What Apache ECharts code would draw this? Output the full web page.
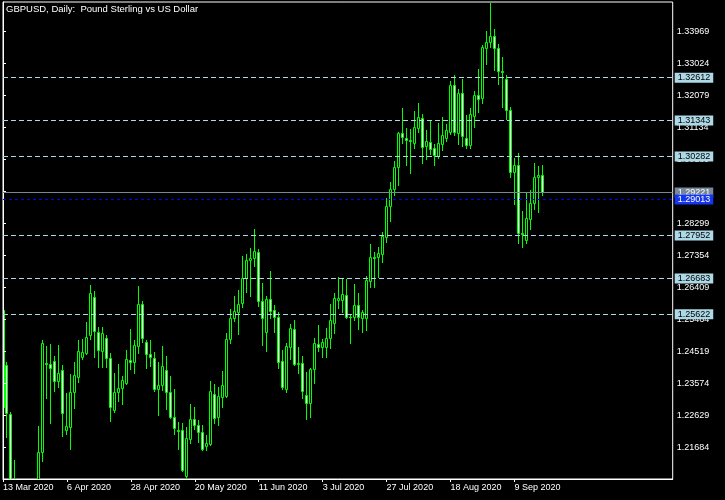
<!DOCTYPE html>
<html><head><meta charset="utf-8">
<script src="https://cdn.jsdelivr.net/npm/echarts@6/dist/echarts.min.js"></script>
<style>html,body{margin:0;padding:0;background:#000;}#c{width:725px;height:500px;}</style>
</head><body><div id="c"></div>
<script>
// Daily bars 13 Mar 2020 .. 18 Sep 2020 (index 0..135)
const openP = [1.2575,1.2413,1.2267,1.2055,1.1720,1.1620,1.1640,1.1520,1.1760,1.1880,
1.2155,1.2419,1.2417,1.2423,1.2366,1.2398,1.2222,1.2229,1.2332,1.2376,
1.2436,1.2449,1.2500,1.2612,1.2511,1.2455,1.2491,1.2432,1.2280,1.2332,
1.2344,1.2360,1.2427,1.2421,1.2469,1.2592,1.2482,1.2445,1.2432,1.2341,
1.2353,1.2398,1.2332,1.2258,1.2222,1.2222,1.2086,1.2193,1.2253,1.2236,
1.2216,1.2173,1.2179,1.2326,1.2259,1.2317,1.2322,1.2488,1.2550,1.2570,
1.2595,1.2670,1.2722,1.2730,1.2745,1.2601,1.2511,1.2607,1.2575,1.2554,
1.2425,1.2341,1.2467,1.2519,1.2415,1.2418,1.2324,1.2300,1.2400,1.2475,
1.2467,1.2465,1.2491,1.2537,1.2604,1.2604,1.2618,1.2555,1.2553,1.2589,
1.2552,1.2550,1.2662,1.2732,1.2732,1.2739,1.2791,1.2882,1.2931,1.2997,
1.3097,1.3082,1.3077,1.3069,1.3113,1.3141,1.3060,1.3072,1.3052,1.3030,
1.3065,1.3084,1.3102,1.3239,1.3098,1.3215,1.3082,1.3062,1.3149,1.3209,
1.3202,1.3348,1.3367,1.3384,1.3350,1.3282,1.3258,1.3166,1.2983,1.3003,
1.2803,1.2782,1.2844,1.2890,1.2969,1.2974];
const highP = [1.2580,1.2422,1.2274,1.2132,1.1790,1.1780,1.1680,1.1780,1.1940,1.2233,
1.2486,1.2469,1.2475,1.2439,1.2471,1.2413,1.2331,1.2386,1.2421,1.2485,
1.2489,1.2540,1.2649,1.2631,1.2526,1.2525,1.2501,1.2448,1.2389,1.2415,
1.2379,1.2457,1.2519,1.2485,1.2646,1.2601,1.2487,1.2485,1.2450,1.2421,
1.2470,1.2439,1.2380,1.2342,1.2243,1.2240,1.2230,1.2297,1.2288,1.2250,
1.2235,1.2206,1.2364,1.2356,1.2347,1.2395,1.2507,1.2577,1.2616,1.2634,
1.2734,1.2740,1.2757,1.2814,1.2754,1.2655,1.2617,1.2690,1.2590,1.2570,
1.2457,1.2478,1.2534,1.2545,1.2467,1.2439,1.2393,1.2403,1.2493,1.2531,
1.2490,1.2521,1.2593,1.2624,1.2672,1.2668,1.2668,1.2560,1.2652,1.2624,
1.2575,1.2674,1.2770,1.2747,1.2762,1.2806,1.2905,1.2953,1.3015,1.3102,
1.3171,1.3113,1.3109,1.3163,1.3186,1.3154,1.3107,1.3134,1.3065,1.3126,
1.3144,1.3124,1.3251,1.3269,1.3228,1.3257,1.3151,1.3172,1.3223,1.3287,
1.3357,1.3399,1.3482,1.3405,1.3361,1.3321,1.3269,1.3174,1.3023,1.3038,
1.2868,1.2921,1.2929,1.3008,1.2999,1.3003];
const lowP = [1.2285,1.2201,1.2000,1.1680,1.1450,1.1410,1.1450,1.1480,1.1700,1.1860,
1.2129,1.2314,1.2242,1.2337,1.2348,1.2204,1.2210,1.2165,1.2286,1.2361,
1.2430,1.2445,1.2490,1.2437,1.2408,1.2408,1.2408,1.2248,1.2275,1.2307,
1.2298,1.2356,1.2400,1.2390,1.2449,1.2481,1.2405,1.2410,1.2335,1.2266,
1.2339,1.2283,1.2255,1.2210,1.2164,1.2099,1.2070,1.2182,1.2223,1.2185,
1.2162,1.2162,1.2176,1.2240,1.2234,1.2289,1.2318,1.2477,1.2542,1.2503,
1.2583,1.2629,1.2617,1.2706,1.2588,1.2472,1.2455,1.2552,1.2511,1.2403,
1.2342,1.2334,1.2430,1.2413,1.2390,1.2314,1.2252,1.2258,1.2360,1.2454,
1.2437,1.2437,1.2464,1.2508,1.2580,1.2570,1.2551,1.2478,1.2545,1.2519,
1.2511,1.2516,1.2644,1.2644,1.2673,1.2718,1.2777,1.2839,1.2915,1.2944,
1.3067,1.3003,1.2980,1.3054,1.3102,1.3010,1.3020,1.3036,1.3003,1.3025,
1.3047,1.3075,1.3095,1.3092,1.3064,1.3060,1.3054,1.3054,1.3116,1.3161,
1.3187,1.3301,1.3353,1.3284,1.3242,1.3175,1.3139,1.2969,1.2888,1.2774,
1.2762,1.2774,1.2813,1.2872,1.2865,1.2915];
const closeP = [1.2289,1.2270,1.2055,1.1720,1.1620,1.1640,1.1520,1.1760,1.1880,1.2155,
1.2477,1.2415,1.2405,1.2366,1.2388,1.2270,1.2232,1.2332,1.2382,1.2454,
1.2450,1.2494,1.2624,1.2513,1.2456,1.2506,1.2432,1.2288,1.2332,1.2344,
1.2368,1.2429,1.2422,1.2472,1.2592,1.2493,1.2445,1.2435,1.2341,1.2353,
1.2409,1.2332,1.2258,1.2226,1.2218,1.2102,1.2196,1.2253,1.2235,1.2216,
1.2164,1.2181,1.2335,1.2257,1.2320,1.2353,1.2488,1.2550,1.2572,1.2593,
1.2670,1.2723,1.2729,1.2749,1.2602,1.2551,1.2607,1.2573,1.2555,1.2422,
1.2349,1.2470,1.2523,1.2415,1.2418,1.2337,1.2300,1.2400,1.2477,1.2467,
1.2482,1.2492,1.2545,1.2611,1.2610,1.2622,1.2555,1.2553,1.2589,1.2553,
1.2568,1.2664,1.2732,1.2729,1.2743,1.2795,1.2882,1.2931,1.2997,1.3097,
1.3085,1.3077,1.3075,1.3114,1.3144,1.3055,1.3073,1.3050,1.3033,1.3067,
1.3091,1.3107,1.3239,1.3101,1.3215,1.3089,1.3063,1.3153,1.3209,1.3199,
1.3352,1.3367,1.3384,1.3350,1.3282,1.3277,1.3166,1.2982,1.3003,1.2803,
1.2798,1.2846,1.2890,1.2967,1.2974,1.29221];

const tickIndex = [0,16,32,48,64,80,96,112,128];
const tickLabels = ['13 Mar 2020','6 Apr 2020','28 Apr 2020','20 May 2020','11 Jun 2020','3 Jul 2020','27 Jul 2020','18 Aug 2020','9 Sep 2020'];
const priceTicks = [1.21684,1.22629,1.23574,1.24519,1.25464,1.26409,1.27354,1.28299,1.29244,1.30189,1.31134,1.32079,1.33024,1.33969];
const levelPrices = [1.32612,1.31343,1.30282,1.27952,1.26683,1.25622];
const bidPrice = 1.29221;
const bluePrice = 1.29013;
const titleText = 'GBPUSD, Daily:  Pound Sterling vs US Dollar';

const FONT = 'Liberation Sans';
const GREEN = '#00ff00';
const rows = openP.map((o, i) => [i, o, closeP[i], lowP[i], highP[i]]);

function renderCandle(params, api) {
  const i = api.value(0);
  const o = api.value(1), c = api.value(2), l = api.value(3), h = api.value(4);
  const pO = api.coord([i, o]), pC = api.coord([i, c]);
  const pL = api.coord([i, l]), pH = api.coord([i, h]);
  const cx = Math.floor(pO[0]) + 0.5;
  const yTop = Math.round(Math.min(pO[1], pC[1]));
  const yBot = Math.round(Math.max(pO[1], pC[1]));
  const up = c >= o;
  const children = [{type:'line', shape:{x1:cx, y1:Math.round(pH[1]), x2:cx, y2:Math.round(pL[1]) + 1},
    style:{stroke:GREEN, lineWidth:1}}];
  if (yBot - yTop >= 1) {
    children.push({type:'rect', shape:{x:cx - 1, y:yTop + 0.5, width:2, height:yBot - yTop},
      style:{fill: up ? '#000' : '#fff', stroke:GREEN, lineWidth:1}});
  } else {
    children.push({type:'line', shape:{x1:cx - 1.5, y1:yTop + 0.5, x2:cx + 1.5, y2:yTop + 0.5},
      style:{stroke:GREEN, lineWidth:1}});
  }
  return {type:'group', children};
}

const lblBase = {show:true, position:'end', distance:2, fontSize:9, fontFamily:FONT,
  padding:[1,3,0,3], lineHeight:9, formatter: p => Number(p.value).toFixed(5)};
const mlData = levelPrices.map(v => ({yAxis:v,
  lineStyle:{color:'#add8e6', type:[5,3], width:1},
  label:Object.assign({}, lblBase, {backgroundColor:'#add8e6', color:'#000'})}));
mlData.push({yAxis:bidPrice, lineStyle:{color:'#778899', type:'solid', width:1},
  label:Object.assign({}, lblBase, {backgroundColor:'#778899', color:'#fff'})});
mlData.push({yAxis:bluePrice, lineStyle:{color:'#0000ff', type:[3,3], width:1},
  label:Object.assign({}, lblBase, {backgroundColor:'#1536ee', color:'#fff'})});

const chart = echarts.init(document.getElementById('c'), null, {renderer:'canvas'});
chart.setOption({
  animation:false,
  backgroundColor:'#000',
  title:{text:titleText, left:6, top:4, padding:0,
    textStyle:{color:'#fff', fontSize:9.5, fontWeight:'normal', fontFamily:FONT}},
  grid:{left:2.3, top:2, width:670.4, height:477, show:true, borderColor:'#fff', borderWidth:1, backgroundColor:'transparent'},
  dataset:{source:rows},
  xAxis:{type:'value', min:0, max:167.6, z:3, splitLine:{show:false},
    axisLine:{show:true, onZero:false, lineStyle:{color:'#fff'}},
    axisTick:{show:true, length:3, customValues:tickIndex, lineStyle:{color:'#fff'}},
    axisLabel:{customValues:tickIndex, formatter:v => tickLabels[tickIndex.indexOf(v)] || '',
      align:'left', color:'#fff', fontSize:9, fontFamily:FONT, margin:4}},
  yAxis:{type:'value', position:'right', min:1.207595, max:1.34846, z:3, splitLine:{show:false},
    axisLine:{show:true, lineStyle:{color:'#fff'}},
    axisTick:{show:true, length:3, customValues:priceTicks, lineStyle:{color:'#fff'}},
    axisLabel:{customValues:priceTicks, formatter:v => Number(v).toFixed(5),
      color:'#fff', fontSize:9, fontFamily:FONT, margin:4}},
  series:[{
    type:'custom',
    renderItem: renderCandle,
    encode:{x:0, y:[1,2,3,4]},
    clip:true,
    z:2,
    markLine:{symbol:'none', silent:true, precision:5, animation:false, z:5, data:mlData}
  }]
});
</script></body></html>
